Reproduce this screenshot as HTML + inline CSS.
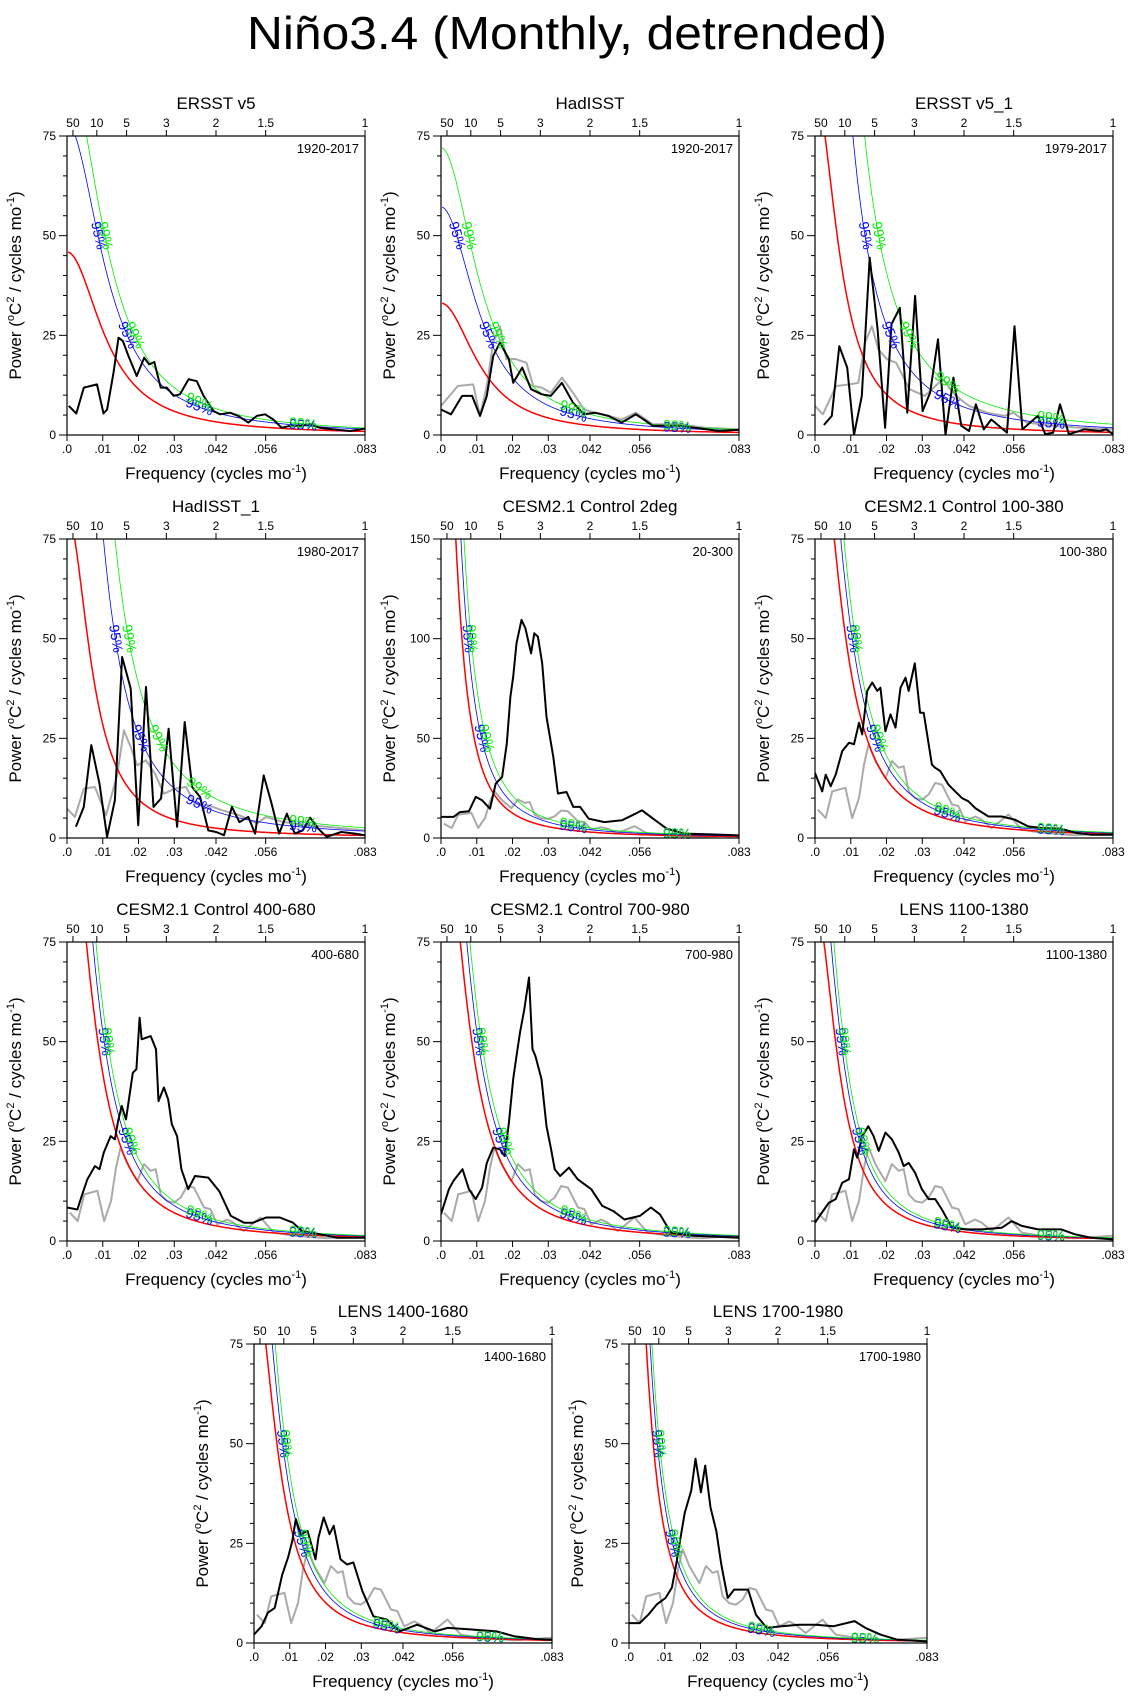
<!DOCTYPE html>
<html><head><meta charset="utf-8"><title>Niño3.4 (Monthly, detrended)</title>
<style>
html,body{margin:0;padding:0;background:#fff;}
svg{display:block;font-family:"Liberation Sans",Arial,sans-serif;}
</style></head>
<body>
<svg id="chart" width="1134" height="1698" viewBox="0 0 1134 1698">
<rect x="0" y="0" width="1134" height="1698" fill="#fff"/>
<text x="567" y="49" text-anchor="middle" font-size="46" textLength="640" lengthAdjust="spacingAndGlyphs">Niño3.4 (Monthly, detrended)</text>
</svg>
<script>
// ---------- data ----------
const xTickVals=[0,0.01,0.02,0.03,1/24,1/18,1/12];
const xTickLabels=[".0",".01",".02",".03",".042",".056",".083"];
const periodTicks=[50,10,5,3,2,1.5,1];
const panelTitles=["ERSST v5","HadISST","ERSST v5_1","HadISST_1","CESM2.1 Control 2deg","CESM2.1 Control 100-380","CESM2.1 Control 400-680","CESM2.1 Control 700-980","LENS 1100-1380","LENS 1400-1680","LENS 1700-1980"];
const panelPeriods=["1920-2017","1920-2017","1979-2017","1980-2017","20-300","100-380","400-680","700-980","1100-1380","1400-1680","1700-1980"];
const yMaxes=[75,75,75,75,150,75,75,75,75,75,75];
// red-noise (AR1) fit parameters per panel: amplitude and lag-1 autocorrelation
const redAmp=[0.225,0.162,0.174,0.165,0.2,0.255,0.255,0.255,0.153,0.172,0.13];
const redR=[0.93,0.93,0.955,0.955,0.974,0.952,0.952,0.952,0.9575,0.9566,0.971];
const sig95=[1.7,1.73,2.7,2.7,1.4,1.25,1.25,1.25,1.25,1.25,1.25];
const sig99=[2.0,2.18,4.0,4.0,1.7,1.4,1.4,1.4,1.4,1.4,1.4];

const p1Freq=[.0005,.0026,.0047,.0084,.0102,.0112,.013,.0144,.0156,.0172,.0195,.0216,.023,.0244,.0262,.0279,.0298,.0316,.034,.0363,.0382,.0396,.041,.0428,.0456,.0479,.0507,.0531,.0554,.0577,.06,.0624,.0652,.0679,.0707,.0745,.0791,.0833];
const p1Black=[7.3,5.4,11.9,12.7,5.4,6.4,15.6,24.4,23.6,19.8,14.8,19.4,17.7,18.3,11.9,11.9,9.8,10.2,14,13.5,9.8,7.9,6,5.2,5.6,4.8,3.1,4.8,5.2,3.9,1.8,2.3,2.3,2.7,1.8,1.4,1,1.6];

const p2Freq=[0,.0028,.0059,.0087,.0109,.0128,.0146,.0165,.019,.0202,.0227,.0252,.0282,.0307,.0338,.0369,.04,.0431,.0468,.0505,.0545,.0573,.0592,.0666,.0728,.0778,.0833];
const p2Black=[6.4,5.2,9.8,9.8,4.8,9.8,19.8,23.2,19,13.1,16.9,11.5,10.2,9.8,13.1,8.1,5.2,5.6,4.8,3.1,5.2,3.5,2.3,2.3,1.6,1,1.3];
const p2GrayFreq=[0,.0047,.009,.0109,.0128,.0146,.0165,.0183,.0208,.0239,.0258,.0282,.0307,.0338,.0369,.04,.0431,.0468,.0505,.0545,.0592,.0666,.074,.0833];
const p2Gray=[7.3,12.3,12.7,4.8,12.3,23.2,27.2,19,19.1,18.1,12.3,11.9,10.6,14.4,10.6,6.4,5.6,4.8,3.9,5.6,2.7,2.7,1.8,1.4];

const p3Freq=[.0025,.0047,.0068,.009,.0109,.0131,.0153,.0175,.0196,.0214,.0237,.0258,.028,.0301,.0322,.0344,.0365,.0387,.0409,.0431,.045,.0472,.0493,.0537,.0558,.058,.0623,.0644,.0666,.0685,.071,.0753,.0796,.0815,.0833];
const p3Black=[2.5,4.8,22.3,16.9,0,9.8,44.5,26.5,1.8,27.8,31.9,5.6,34.9,6,10.6,24,0,14.4,2.3,1,7.7,1.4,3.9,0.6,27.3,1.4,4.8,0.2,0.6,7.7,0.2,1.4,1,1.4,0.2];
const p3GrayFreq=[0,.0022,.0059,.0097,.0121,.014,.0159,.0177,.0202,.0227,.0264,.0307,.0357,.0394,.0431,.0481,.053,.0555,.0592,.0666,.0741,.0833];
const p3Gray=[7.3,5.2,12.3,12.7,13.1,23.2,27.3,21.5,19,18.1,11.5,9.8,14,9.8,7.3,5.6,4.8,5.6,3.1,2.3,1.8,1.4];

const p4Freq=[.0025,.0047,.0068,.0091,.0112,.0134,.0154,.0178,.0199,.0221,.0242,.0263,.0284,.0308,.0329,.035,.0372,.0395,.0417,.0439,.0461,.0482,.0507,.0526,.055,.0571,.0593,.0615,.0637,.0659,.068,.0703,.0726,.0767,.0805,.0833];
const p4Black=[2.8,7.8,23.3,13.6,0.3,9.5,45.4,37.5,3.2,37.9,7.8,9.9,27.4,2.8,29.1,12.8,10.3,1.9,1.5,0.7,7.8,4,5.3,1.1,15.7,9,1.1,6.1,1.1,1.9,5.1,2.3,0.3,1.5,1.1,0.7];
const p4GrayFreq=[0,.0022,.0047,.0078,.0109,.014,.0159,.0178,.0196,.0221,.0246,.0271,.0302,.0333,.0358,.0395,.0432,.0482,.0532,.0556,.0606,.068,.0833];
const p4Gray=[7.4,5.3,12.4,12.8,5.7,15.7,27,22.8,18.2,19.5,16.1,11.1,12.4,12.8,8.6,8.2,7,5.7,3.6,5.3,4,3.2,1.9];

const p5Freq=[0,.0035,.0053,.0078,.0097,.0115,.0137,.0153,.0171,.0184,.0194,.0202,.0211,.0225,.0236,.0252,.0261,.0271,.0283,.0295,.0314,.0327,.0351,.037,.0389,.0413,.0457,.0506,.0544,.0562,.0593,.0631,.068,.0755,.0833];
const p5Black=[10.6,10.6,13,13.4,20.6,18.9,14.7,27.3,30.6,47.4,70.9,80.9,97.7,109.4,105.2,92.6,102.7,101,87.6,60.8,40.7,22.3,23.1,15.6,15.6,9.7,8,8.9,12.2,13.9,9.7,4.7,2.2,1.8,1.3];

const p6Freq=[0,.002,.003,.0044,.0058,.0076,.0095,.0109,.0123,.0132,.0146,.016,.0174,.0183,.0197,.0211,.0225,.0239,.0253,.0262,.0279,.0294,.0304,.0327,.0336,.035,.0373,.0392,.0411,.0429,.0448,.0485,.0522,.0559,.0596,.0634,.069,.0727,.0773,.0833];
const p6Black=[16.3,11.7,15.9,13,15.9,21.8,23.9,23.5,28.9,26,36.9,39,36.9,37.7,26.8,31,27.7,37.7,40.2,36.9,43.8,31.4,31.4,18.4,17.6,16.8,13.4,11.7,10,9.2,7.5,5.4,5.4,4.6,2.9,2.5,2.3,1.3,0.8,0.8];

const p7Freq=[0,.0029,.0041,.0057,.0078,.0091,.0103,.0122,.0134,.0143,.0153,.0165,.0184,.0194,.0203,.0209,.0234,.0249,.0256,.0271,.0283,.0293,.0308,.032,.0339,.0358,.0395,.0426,.0458,.0495,.052,.0557,.0595,.0632,.0657,.0706,.0756,.0833];
const p7Black=[8.4,7.9,11.3,15.5,18.8,18,22.2,26.3,25.5,30.1,33.9,30.5,42.2,43.1,56,50.6,51.4,48.1,35.1,38.5,35.5,29.3,26.3,18,13,16.3,15.9,12.5,6.3,4.6,4.6,5.9,5.9,4.6,2.5,1.7,0.8,0.8];

const p8Freq=[0,.0022,.0035,.006,.0078,.0097,.0115,.0128,.0146,.0165,.0178,.019,.0202,.0211,.0221,.0233,.0246,.0256,.0264,.0281,.0295,.0308,.0318,.0333,.0358,.0382,.042,.0451,.0482,.0513,.0556,.0587,.0612,.0643,.0706,.0833];
const p8Black=[6.7,13,15.1,18,13,10.5,13.4,19.6,23.4,23,21.3,29.7,40.6,46.4,52.3,58.1,66.1,48.1,46.4,40.6,28.8,23,18,16.3,18.4,15.5,13,8.8,7.5,5.4,6.3,8.4,6.7,2.1,1.3,0.8];

const p9Freq=[0,.0016,.0039,.0058,.0076,.0095,.0109,.0118,.0132,.0149,.0164,.0178,.0197,.0215,.0234,.0248,.0262,.028,.0299,.0318,.0336,.0355,.0383,.042,.0466,.0522,.055,.0578,.0624,.0689,.0726,.0773,.0833];
const p9Black=[4.6,6.7,9.6,10.5,14.6,15.5,23,20.9,26.3,28.8,26.3,22.6,27.2,25.5,22.2,18.8,19.6,17.1,13,10.5,10.5,7.9,3.3,2.9,2.9,3.3,5,3.8,2.9,2.9,1.7,0.8,0.4];

const p10Freq=[0,.0021,.0039,.0058,.0079,.0095,.0107,.0117,.0131,.015,.0172,.018,.0195,.0211,.0223,.0242,.026,.0278,.0303,.0334,.0371,.0407,.0456,.0506,.0542,.0604,.0678,.0727,.0788,.0833];
const p10Black=[2.1,4.2,7.6,8.8,17.2,21.4,25.6,31.1,27.3,28.1,21,26.4,31.5,27.3,29.4,21,19.7,20.2,13,6.7,5.9,2.9,4.6,2.9,3.8,3.4,2.9,1.7,1,0.8];

const p11Freq=[0,.003,.0054,.0078,.0102,.012,.0132,.0144,.0156,.0174,.0186,.0201,.0213,.0228,.0244,.0258,.0276,.0294,.0319,.0333,.0355,.0385,.0427,.0475,.0523,.0571,.0631,.0661,.0703,.0751,.0833];
const p11Black=[5,5,7.1,9.7,11.3,13.9,19.7,26.4,32.7,38.2,46.2,37.8,44.5,34,28.1,19.7,11.3,13.4,13.4,13.4,7.1,3.8,4.2,4.6,4.6,4.2,5.5,3.8,2.1,0.8,0.4];

// observed reference spectrum (gray) shown behind model panels
const obsGrayFreq=[.0008,.003,.0048,.0085,.0104,.0123,.0137,.015,.0169,.0197,.0215,.0234,.0248,.0262,.028,.0299,.0318,.0336,.0355,.0383,.0401,.042,.0448,.0466,.0494,.0541,.0578,.0634,.0726,.0833];
const obsGray=[7.1,5,11.7,12.6,5,10,18.4,23.5,19.3,15,19.3,17.6,18,11.7,10,9.6,10.9,13.8,13.4,8.4,8,4.2,5.4,4.6,2.5,5.9,2.1,1.3,0.7,1.3];

const blackFreqs=[p1Freq,p2Freq,p3Freq,p4Freq,p5Freq,p6Freq,p7Freq,p8Freq,p9Freq,p10Freq,p11Freq];
const blackVals=[p1Black,p2Black,p3Black,p4Black,p5Black,p6Black,p7Black,p8Black,p9Black,p10Black,p11Black];
const grayFreqs=[null,p2GrayFreq,p3GrayFreq,p4GrayFreq,obsGrayFreq,obsGrayFreq,obsGrayFreq,obsGrayFreq,obsGrayFreq,obsGrayFreq,obsGrayFreq];
const grayVals=[null,p2Gray,p3Gray,p4Gray,obsGray,obsGray,obsGray,obsGray,obsGray,obsGray,obsGray];

// ---------- layout ----------
const layout=[[67,136],[441,136],[815,136],[67,539],[441,539],[815,539],[67,942],[441,942],[815,942],[254,1344],[629,1344]];
const PW=298, PH=299, FMAX=1/12;

const NS="http://www.w3.org/2000/svg";
const svg=document.getElementById('chart');
function mk(tag,attrs,parent){const e=document.createElementNS(NS,tag);for(const k in attrs)e.setAttribute(k,attrs[k]);(parent||svg).appendChild(e);return e;}
function slug(s){return s.toLowerCase().replace(/[^a-z0-9]+/g,'-').replace(/(^-|-$)/g,'');}

function addRichText(parent,parts,attrs){
  const t=mk('text',attrs,parent);
  let up=false;
  parts.forEach(p=>{
    const ts=document.createElementNS(NS,'tspan');
    if(p.sup&&!up){ts.setAttribute('dy','-7');ts.setAttribute('font-size','11');up=true;}
    else if(!p.sup&&up){ts.setAttribute('dy','7');up=false;}
    else if(p.sup){ts.setAttribute('font-size','11');}
    ts.textContent=p.t;t.appendChild(ts);
  });
  return t;
}

layout.forEach((pos,i)=>{
  const L=pos[0],T=pos[1],B=T+PH,R=L+PW,ymax=yMaxes[i];
  const xs=f=>L+f/FMAX*PW;
  const ys=v=>B-v/ymax*PH;
  const g=mk('g',{});
  
  
  const cid='clip'+i;
  const cp=mk('clipPath',{id:cid},g);
  mk('rect',{x:L,y:T,width:PW,height:PH},cp);

  // title & subtitle
  const tt=mk('text',{x:L+PW/2,y:T-27,'text-anchor':'middle','font-size':17},g);
  tt.textContent=panelTitles[i];
  
  
  const st=mk('text',{x:R-6,y:T+17,'text-anchor':'end','font-size':13},g);
  st.textContent=panelPeriods[i];
  
  

  // y ticks
  const minorStep=ymax===150?10:5, majorStep=ymax/3;
  for(let v=0;v<=ymax+1e-9;v+=minorStep){
    const isMaj=Math.abs(v/majorStep-Math.round(v/majorStep))<1e-9;
    const tk=mk('line',{x1:L-(isMaj?8:4),x2:L,y1:ys(v),y2:ys(v),stroke:'#000','stroke-width':1},g);
    
    
    if(isMaj){
      const lb=mk('text',{x:L-11,y:ys(v)+4,'text-anchor':'end','font-size':12},g);
      lb.textContent=String(Math.round(v));
      
      
    }
  }
  // bottom ticks
  xTickVals.forEach((f,k)=>{
    const tk=mk('line',{x1:xs(f),x2:xs(f),y1:B,y2:B+6,stroke:'#000','stroke-width':1},g);
    
    
    const lb=mk('text',{x:xs(f),y:B+18,'text-anchor':'middle','font-size':12},g);
    lb.textContent=xTickLabels[k];
    
    
  });
  // top period ticks
  periodTicks.forEach(p=>{
    const f=1/(12*p);
    const tk=mk('line',{x1:xs(f),x2:xs(f),y1:T-6,y2:T,stroke:'#000','stroke-width':1},g);
    
    
    const lb=mk('text',{x:xs(f),y:T-9,'text-anchor':'middle','font-size':12},g);
    lb.textContent=String(p);
    
    
  });
  // axis titles
  const xt=addRichText(g,[{t:'Frequency (cycles mo'},{t:'-1',sup:true},{t:')'}],{x:L+PW/2,y:B+44,'text-anchor':'middle','font-size':17});
  
  
  const yx=L-46, yy=T+PH/2;
  const yt=addRichText(g,[{t:'Power ('},{t:'o',sup:true},{t:'C'},{t:'2',sup:true},{t:' / cycles mo'},{t:'-1',sup:true},{t:')'}],{x:yx,y:yy,'text-anchor':'middle','font-size':17,transform:`rotate(-90 ${yx} ${yy})`});
  
  

  const plot=mk('g',{'clip-path':`url(#${cid})`},g);
  
  

  // gray series
  if(grayFreqs[i]){
    const pts=grayFreqs[i].map((f,k)=>xs(f).toFixed(1)+','+ys(grayVals[i][k]).toFixed(1)).join(' ');
    const gl=mk('polyline',{points:pts,fill:'none',stroke:'#aaaaaa','stroke-width':2,'stroke-linejoin':'round'},plot);
    
    
  }
  // red-noise and significance curves
  const red=f=>redAmp[i]/(1-2*redR[i]*Math.cos(2*Math.PI*f)+redR[i]*redR[i]);
  const curves=[{m:1,c:'#ff0000',w:1.5,n:'red-noise-line'},{m:sig95[i],c:'#0000ff',w:0.8,n:'sig-95-line',lab:'95%'},{m:sig99[i],c:'#00ee00',w:0.8,n:'sig-99-line',lab:'99%'}];
  const curveEls=[];
  curves.forEach(cv=>{
    const pts=[];
    for(let k=0;k<=400;k++){const f=0.0003+k*(FMAX-0.0003)/400;pts.push(xs(f).toFixed(1)+','+Math.max(T-50,ys(red(f)*cv.m)).toFixed(1));}
    const pl=mk('polyline',{points:pts.join(' '),fill:'none',stroke:cv.c,'stroke-width':cv.w},plot);
    
    
  });
  // black spectrum
  const bp=blackFreqs[i].map((f,k)=>xs(f).toFixed(1)+','+ys(blackVals[i][k]).toFixed(1)).join(' ');
  const bl=mk('polyline',{points:bp,fill:'none',stroke:'#000','stroke-width':2,'stroke-linejoin':'round'},plot);
  
  

  // significance labels along curves
  curves.slice(1).forEach(cv=>{
    const fn=f=>red(f)*cv.m;
    const findF=target=>{let a=0.0001,b=FMAX;for(let k=0;k<60;k++){const m=(a+b)/2;if(fn(m)>target)a=m;else b=m;}return (a+b)/2;};
    const spots=[findF(ymax*2/3),findF(ymax/3),0.037,0.066];
    spots.forEach(f=>{
      const px=xs(f),py=ys(fn(f));
      const px2=xs(f+0.0004),py2=ys(fn(f+0.0004));
      const ang=Math.atan2(py2-py,px2-px)*180/Math.PI;
      const lb=mk('text',{x:px,y:py+4,'text-anchor':'middle','font-size':14,fill:cv.c,transform:`rotate(${ang.toFixed(1)} ${px.toFixed(1)} ${py.toFixed(1)})`},g);
      lb.textContent=cv.lab;
      
      
    });
  });

  // frame
  const fr=mk('rect',{x:L,y:T,width:PW,height:PH,fill:'none',stroke:'#000','stroke-width':1.2},g);
  
  
});
</script>
</body></html>
